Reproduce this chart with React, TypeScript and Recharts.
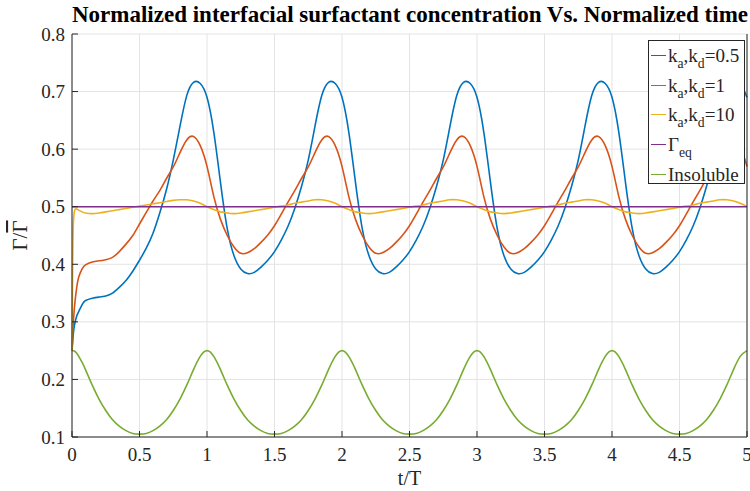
import { LineChart, Line, XAxis, YAxis, CartesianGrid, Legend } from 'recharts';

// normalized time t/T
const time = [
  0, 0.005, 0.01, 0.02, 0.035, 0.05, 0.075,
  0.1, 0.15, 0.2, 0.25, 0.3, 0.35, 0.4, 0.45, 0.5, 0.55, 0.6, 0.65, 0.7, 0.75, 0.8, 0.85, 0.9, 0.95,
  1, 1.05, 1.1, 1.15, 1.2, 1.25, 1.3, 1.35, 1.4, 1.45, 1.5, 1.55, 1.6, 1.65, 1.7, 1.75, 1.8, 1.85, 1.9, 1.95,
  2, 2.05, 2.1, 2.15, 2.2, 2.25, 2.3, 2.35, 2.4, 2.45, 2.5, 2.55, 2.6, 2.65, 2.7, 2.75, 2.8, 2.85, 2.9, 2.95,
  3, 3.05, 3.1, 3.15, 3.2, 3.25, 3.3, 3.35, 3.4, 3.45, 3.5, 3.55, 3.6, 3.65, 3.7, 3.75, 3.8, 3.85, 3.9, 3.95,
  4, 4.05, 4.1, 4.15, 4.2, 4.25, 4.3, 4.35, 4.4, 4.45, 4.5, 4.55, 4.6, 4.65, 4.7, 4.75, 4.8, 4.85, 4.9, 4.95,
  5,
];

// ka,kd = 0.5
const kd05 = [
  0.25, 0.265, 0.28, 0.296, 0.31, 0.318, 0.33,
  0.337, 0.341, 0.343, 0.345, 0.35, 0.36, 0.372, 0.388, 0.407, 0.428, 0.454, 0.489, 0.53, 0.581, 0.64, 0.693, 0.716, 0.714,
  0.69, 0.63, 0.542, 0.462, 0.415, 0.392, 0.384, 0.386, 0.395, 0.407, 0.422, 0.442, 0.466, 0.497, 0.535, 0.581, 0.64, 0.693, 0.716, 0.714,
  0.69, 0.63, 0.542, 0.462, 0.415, 0.392, 0.384, 0.386, 0.395, 0.407, 0.422, 0.442, 0.466, 0.497, 0.535, 0.581, 0.64, 0.693, 0.716, 0.714,
  0.69, 0.63, 0.542, 0.462, 0.415, 0.392, 0.384, 0.386, 0.395, 0.407, 0.422, 0.442, 0.466, 0.497, 0.535, 0.581, 0.64, 0.693, 0.716, 0.714,
  0.69, 0.63, 0.542, 0.462, 0.415, 0.392, 0.384, 0.386, 0.395, 0.407, 0.422, 0.442, 0.466, 0.497, 0.535, 0.581, 0.64, 0.693, 0.716, 0.714,
  0.69,
];

// ka,kd = 1
const kd1 = [
  0.25, 0.28, 0.3, 0.33, 0.36, 0.378, 0.392,
  0.399, 0.404, 0.406, 0.408, 0.412, 0.422, 0.435, 0.45, 0.47, 0.49, 0.51, 0.528, 0.549, 0.569, 0.594, 0.616, 0.622, 0.606,
  0.57, 0.518, 0.478, 0.45, 0.43, 0.419, 0.42, 0.427, 0.438, 0.451, 0.467, 0.487, 0.508, 0.528, 0.549, 0.569, 0.594, 0.616, 0.622, 0.606,
  0.57, 0.518, 0.478, 0.45, 0.43, 0.419, 0.42, 0.427, 0.438, 0.451, 0.467, 0.487, 0.508, 0.528, 0.549, 0.569, 0.594, 0.616, 0.622, 0.606,
  0.57, 0.518, 0.478, 0.45, 0.43, 0.419, 0.42, 0.427, 0.438, 0.451, 0.467, 0.487, 0.508, 0.528, 0.549, 0.569, 0.594, 0.616, 0.622, 0.606,
  0.57, 0.518, 0.478, 0.45, 0.43, 0.419, 0.42, 0.427, 0.438, 0.451, 0.467, 0.487, 0.508, 0.528, 0.549, 0.569, 0.594, 0.616, 0.622, 0.606,
  0.57,
];

// ka,kd = 10
const kd10 = [
  0.25, 0.4, 0.47, 0.494, 0.496, 0.494, 0.491,
  0.489, 0.488, 0.489, 0.491, 0.493, 0.495, 0.497, 0.499, 0.501, 0.503, 0.505, 0.507, 0.509, 0.511, 0.512, 0.512, 0.51, 0.506,
  0.5, 0.495, 0.491, 0.489, 0.488, 0.489, 0.491, 0.493, 0.495, 0.497, 0.499, 0.501, 0.503, 0.506, 0.508, 0.51, 0.512, 0.512, 0.51, 0.506,
  0.5, 0.495, 0.491, 0.489, 0.488, 0.489, 0.491, 0.493, 0.495, 0.497, 0.499, 0.501, 0.503, 0.506, 0.508, 0.51, 0.512, 0.512, 0.51, 0.506,
  0.5, 0.495, 0.491, 0.489, 0.488, 0.489, 0.491, 0.493, 0.495, 0.497, 0.499, 0.501, 0.503, 0.506, 0.508, 0.51, 0.512, 0.512, 0.51, 0.506,
  0.5, 0.495, 0.491, 0.489, 0.488, 0.489, 0.491, 0.493, 0.495, 0.497, 0.499, 0.501, 0.503, 0.506, 0.508, 0.51, 0.512, 0.512, 0.51, 0.506,
  0.5,
];

// equilibrium concentration
const gammaEq = 0.5;

// insoluble surfactant
const insoluble = [
  0.25, 0.25, 0.2498, 0.249, 0.2455, 0.24, 0.2295,
  0.217, 0.19, 0.166, 0.146, 0.13, 0.119, 0.111, 0.106, 0.105, 0.106, 0.111, 0.119, 0.13, 0.146, 0.166, 0.19, 0.217, 0.24,
  0.25, 0.24, 0.217, 0.19, 0.166, 0.146, 0.13, 0.119, 0.111, 0.106, 0.105, 0.106, 0.111, 0.119, 0.13, 0.146, 0.166, 0.19, 0.217, 0.24,
  0.25, 0.24, 0.217, 0.19, 0.166, 0.146, 0.13, 0.119, 0.111, 0.106, 0.105, 0.106, 0.111, 0.119, 0.13, 0.146, 0.166, 0.19, 0.217, 0.24,
  0.25, 0.24, 0.217, 0.19, 0.166, 0.146, 0.13, 0.119, 0.111, 0.106, 0.105, 0.106, 0.111, 0.119, 0.13, 0.146, 0.166, 0.19, 0.217, 0.24,
  0.25, 0.24, 0.217, 0.19, 0.166, 0.146, 0.13, 0.119, 0.111, 0.106, 0.105, 0.106, 0.111, 0.119, 0.13, 0.146, 0.166, 0.19, 0.217, 0.24,
  0.25,
];

const xTicks = [0, 0.5, 1, 1.5, 2, 2.5, 3, 3.5, 4, 4.5, 5];
const yTicks = [0.1, 0.2, 0.3, 0.4, 0.5, 0.6, 0.7, 0.8];

const data = time.map((t, i) => ({
  t,
  kd05: kd05[i],
  kd1: kd1[i],
  kd10: kd10[i],
  eq: gammaEq,
  insoluble: insoluble[i],
}));

const SERIF = '"Liberation Serif", "Times New Roman", serif';
const INK = '#262626';

const series = [
  { key: 'kd05', color: '#0072BD', label: <>k<sub>a</sub>,k<sub>d</sub>=0.5</> },
  { key: 'kd1', color: '#D95319', label: <>k<sub>a</sub>,k<sub>d</sub>=1</> },
  { key: 'kd10', color: '#EDB120', label: <>k<sub>a</sub>,k<sub>d</sub>=10</> },
  { key: 'eq', color: '#7E2F8E', label: <>Γ<sub>eq</sub></> },
  { key: 'insoluble', color: '#77AC30', label: <>Insoluble</> },
];

const subStyle = `.lg sub { font-size: 0.72em; line-height: 0; vertical-align: -0.45em; }`;

function LegendBox() {
  return (
    <div
      className="lg"
      style={{
        width: 97,
        height: 144,
        boxSizing: 'border-box',
        border: `1px solid ${INK}`,
        background: '#fff',
        fontFamily: SERIF,
        fontSize: 19,
        color: INK,
      }}
    >
      {series.map((s) => (
        <div key={s.key} style={{ display: 'flex', alignItems: 'center', height: 29.6 }}>
          <span style={{ width: 15, borderTop: `1.6px solid ${s.color}`, margin: '0 2px 0 2px' }} />
          <span style={{ lineHeight: 1, whiteSpace: 'nowrap' }}>{s.label}</span>
        </div>
      ))}
    </div>
  );
}

function BottomTick({ x, y, payload }: any) {
  return (
    <g>
      <line x1={x} x2={x} y1={y} y2={y - 6} stroke={INK} />
      <text x={x} y={y + 24} textAnchor="middle" fontFamily={SERIF} fontSize={19} fill={INK}>
        {payload.value}
      </text>
    </g>
  );
}

function LeftTick({ x, y, payload }: any) {
  return (
    <g>
      <line x1={x} x2={x + 6} y1={y} y2={y} stroke={INK} />
      <text x={x - 7} y={y + 6.5} textAnchor="end" fontFamily={SERIF} fontSize={19} fill={INK}>
        {payload.value}
      </text>
    </g>
  );
}

function TopTick({ x, y }: any) {
  return <line x1={x} x2={x} y1={y} y2={y + 6} stroke={INK} />;
}

function RightTick({ x, y }: any) {
  return <line x1={x} x2={x - 6} y1={y} y2={y} stroke={INK} />;
}

function YLabel({ viewBox }: any) {
  const cx = 20;
  const cy = viewBox.y + viewBox.height / 2;
  return (
    <text
      x={cx}
      y={cy}
      transform={`rotate(-90 ${cx} ${cy})`}
      textAnchor="middle"
      dominantBaseline="central"
      fontFamily={SERIF}
      fontSize={21}
      fill={INK}
    >
      Γ/<tspan style={{ textDecoration: 'overline' }}>Γ</tspan>
    </text>
  );
}

export default function App() {
  return (
    <div style={{ position: 'absolute', left: 0, top: 0, width: 750, height: 491, background: '#fff' }}>
      <style>{subStyle}</style>
      <div
        style={{
          position: 'absolute',
          left: 72,
          top: 1,
          width: 675,
          textAlign: 'center',
          fontFamily: SERIF,
          fontWeight: 'bold',
          fontSize: 23,
          lineHeight: '28px',
          color: '#000',
          whiteSpace: 'nowrap',
          zIndex: 1,
        }}
      >
        Normalized interfacial surfactant concentration Vs. Normalized time
      </div>
      <LineChart width={750} height={491} data={data} margin={{ top: 34, right: 2, bottom: 0, left: 0 }}>
        <CartesianGrid stroke="#e3e3e3" strokeWidth={1} vertical horizontal />
        <XAxis
          dataKey="t"
          type="number"
          domain={[0, 5]}
          ticks={xTicks}
          interval={0}
          height={54}
          tickSize={0}
          tickMargin={0}
          tickLine={false}
          axisLine={{ stroke: INK }}
          tick={<BottomTick />}
          label={{ value: 't/T', position: 'insideBottom', offset: 6, fontFamily: SERIF, fontSize: 20, fill: INK }}
        />
        <XAxis
          xAxisId="top"
          orientation="top"
          dataKey="t"
          type="number"
          domain={[0, 5]}
          ticks={xTicks}
          interval={0}
          height={0}
          tickSize={0}
          tickMargin={0}
          tickLine={false}
          axisLine={{ stroke: INK }}
          tick={<TopTick />}
        />
        <YAxis
          type="number"
          domain={[0.1, 0.8]}
          ticks={yTicks}
          interval={0}
          width={72}
          tickSize={0}
          tickMargin={0}
          tickLine={false}
          axisLine={{ stroke: INK }}
          tick={<LeftTick />}
          label={<YLabel />}
        />
        <YAxis
          yAxisId="right"
          orientation="right"
          type="number"
          domain={[0.1, 0.8]}
          ticks={yTicks}
          interval={0}
          width={1}
          tickSize={0}
          tickMargin={0}
          tickLine={false}
          axisLine={{ stroke: INK }}
          tick={<RightTick />}
        />
        {series.map((s) => (
          <Line
            key={s.key}
            type="natural"
            dataKey={s.key}
            stroke={s.color}
            strokeWidth={1.6}
            dot={false}
            isAnimationActive={false}
          />
        ))}
        <Legend
          verticalAlign="middle"
          align="center"
          layout="horizontal"
          content={<LegendBox />}
          wrapperStyle={{ left: 648, top: 40, width: 97, height: 144 }}
        />
      </LineChart>
    </div>
  );
}
